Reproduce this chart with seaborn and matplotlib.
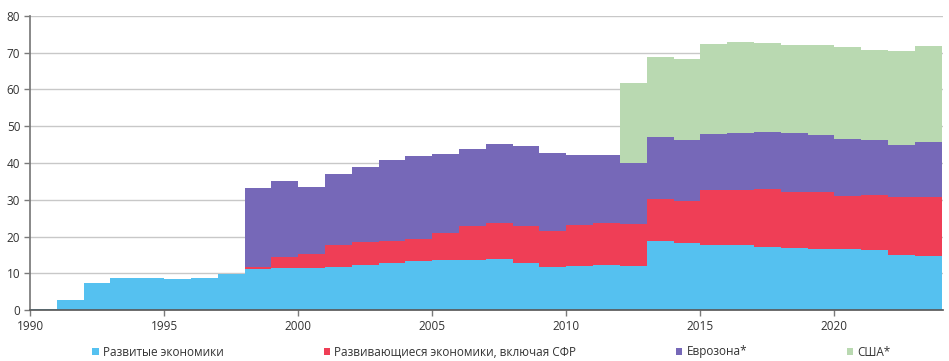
import numpy as np
import pandas as pd
import matplotlib
matplotlib.use("Agg")
import matplotlib.pyplot as plt
from matplotlib.patches import Patch
import seaborn as sns

# ── Data (share, %, by year) ─────────────────────────────────
years = list(range(1990, 2024))

developed = [0.2, 2.7, 7.4, 8.6, 8.7, 8.3, 8.6, 9.8, 11.1, 11.3,
             11.5, 11.8, 12.2, 12.9, 13.2, 13.5, 13.7, 13.9, 12.8, 11.7,
             12.1, 12.2, 12.0, 18.8, 18.1, 17.6, 17.8, 17.1, 17.0, 16.7,
             16.7, 16.3, 15.1, 14.7]
emerging = [0, 0, 0, 0, 0, 0, 0, 0, 0.5, 3.0,
            3.7, 5.9, 6.3, 5.8, 6.0, 7.5, 9.1, 9.7, 10.1, 9.9,
            11.1, 11.6, 11.5, 11.4, 11.5, 15.0, 14.8, 15.8, 15.2, 15.5,
            14.4, 14.9, 15.7, 16.1]
eurozone = [0, 0, 0, 0, 0, 0, 0, 0, 21.7, 20.8,
            18.3, 19.2, 20.3, 22.2, 22.7, 21.5, 21.1, 21.7, 21.6, 21.0,
            18.9, 18.3, 16.6, 16.9, 16.7, 15.4, 15.6, 15.5, 15.9, 15.3,
            15.3, 15.1, 14.2, 14.9]
usa = [0, 0, 0, 0, 0, 0, 0, 0, 0, 0,
       0, 0, 0, 0, 0, 0, 0, 0, 0, 0,
       0, 0, 21.6, 21.7, 22.0, 24.5, 24.6, 24.2, 24.1, 24.5,
       25.1, 24.4, 25.5, 26.2]

series_names = ["Развитые экономики",
                "Развивающиеся экономики, включая СФР",
                "Еврозона*",
                "США*"]
colors = ["#55c1f0", "#ef3e56", "#7668b8", "#b9d9b1"]

x_ticks = [1990, 1995, 2000, 2005, 2010, 2015, 2020]
y_ticks = [0, 10, 20, 30, 40, 50, 60, 70, 80]

# ── Long table for seaborn ───────────────────────────────────
frames = []
for name, vals in zip(series_names, [developed, emerging, eurozone, usa]):
    frames.append(pd.DataFrame({"year": years, "value": vals, "series": name}))
df = pd.concat(frames, ignore_index=True)

# ── Plot ─────────────────────────────────────────────────────
sns.set_theme(style="white")
plt.rcParams["font.family"] = ["Open Sans", "DejaVu Sans"]

fig = plt.figure(figsize=(9.49, 3.61), dpi=100)
ax = fig.add_axes([30 / 949, 51 / 361, 913 / 949, 294 / 361])

# seaborn stacks the last hue level at the bottom, so reverse the order
sns.histplot(data=df, x="year", weights="value", hue="series",
             hue_order=series_names[::-1],
             palette=dict(zip(series_names, colors)),
             binwidth=1, binrange=(1990, 2024), multiple="stack",
             element="step", alpha=1, linewidth=0, edgecolor="none",
             legend=False, ax=ax)

ax.set_xlim(1990, 2024.05)
ax.set_ylim(0, 80)
ax.set_xticks(x_ticks)
ax.set_yticks(y_ticks)
ax.set_xlabel("")
ax.set_ylabel("")

ax.yaxis.grid(True, color="#c8c8c8", linewidth=1)
ax.set_axisbelow(True)
for side in ["top", "right"]:
    ax.spines[side].set_visible(False)
ax.spines["left"].set_color("#7a7a7a")
ax.spines["bottom"].set_color("#5a5a5a")
ax.tick_params(axis="both", which="major", direction="out", length=4,
               width=1, color="#7a7a7a", labelsize=8.5, labelcolor="#333333",
               left=True, bottom=True, pad=3)

handles = [Patch(facecolor=c, edgecolor="none") for c in colors]
fig.legend(handles, series_names, loc="center", ncol=4,
           bbox_to_anchor=(0.518, 9 / 361), frameon=False,
           fontsize=8.5, handlelength=0.55, handleheight=0.55,
           handletextpad=0.35, columnspacing=8.45, labelcolor="#333333")

fig.savefig("out.png", dpi=100)
